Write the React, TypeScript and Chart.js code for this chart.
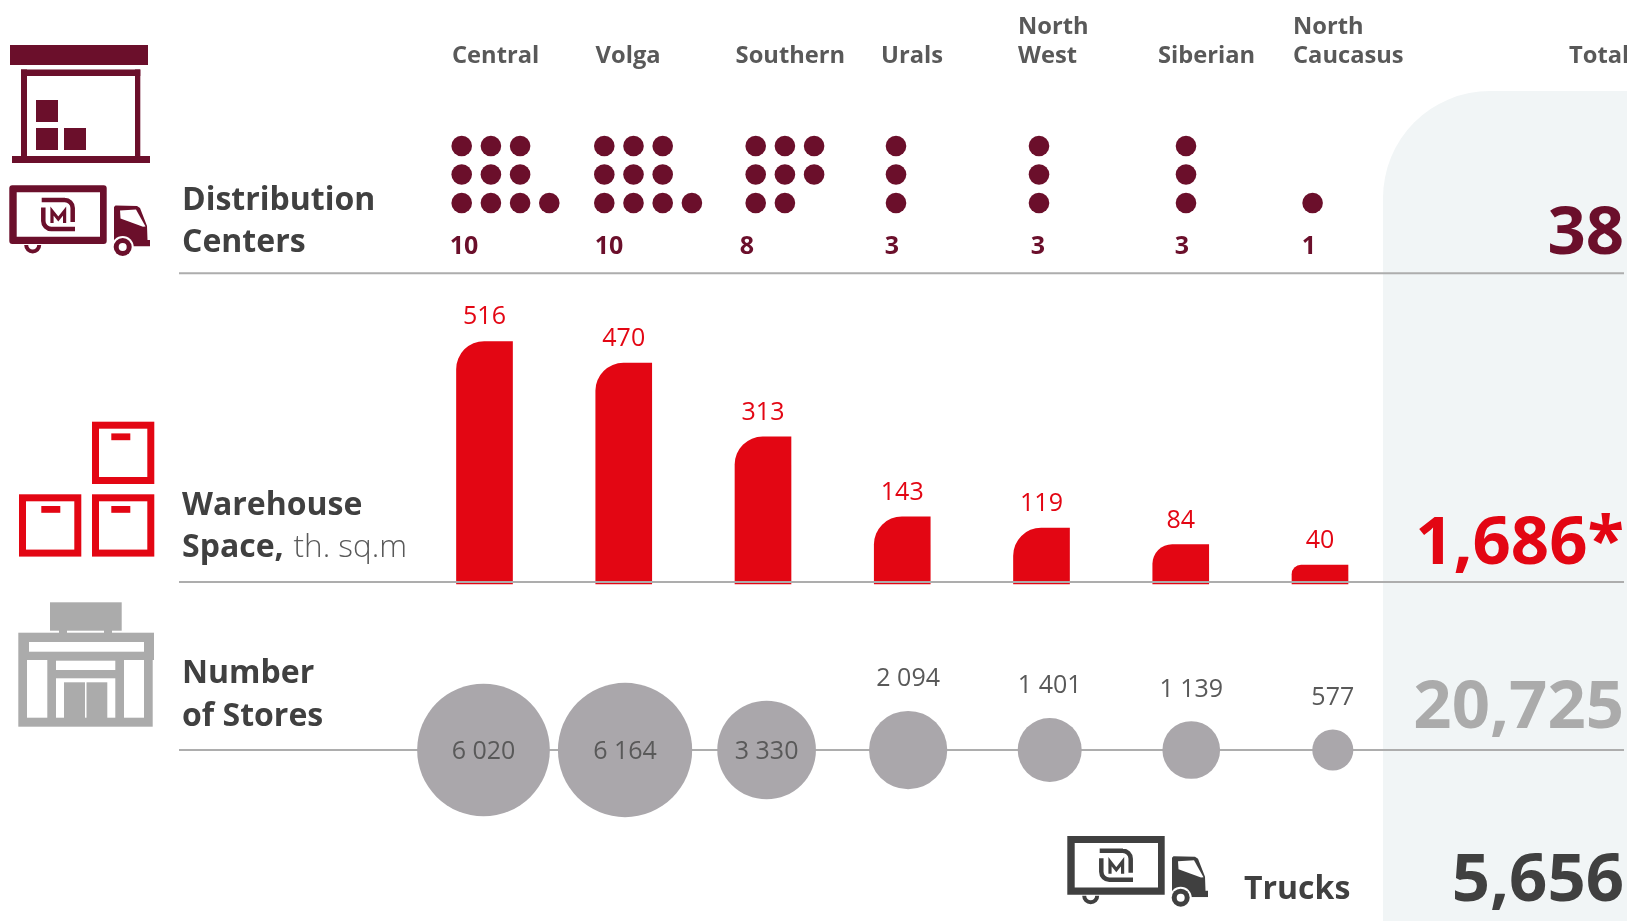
import React, { useEffect, useRef } from "react";
import { Chart, registerables } from "chart.js";

Chart.register(...registerables);

const regions = ["Central", "Volga", "Southern", "Urals", "North West", "Siberian", "North Caucasus"];
const distributionCenters = [10, 10, 8, 3, 3, 3, 1];
const warehouseSpace = [516, 470, 313, 143, 119, 84, 40];
const storeCounts = [6020, 6164, 3330, 2094, 1401, 1139, 577];
const totalCenters = "38";
const totalSpace = "1,686*";
const totalStores = "20,725";
const totalTrucks = "5,656";

const W = 1627;
const H = 921;
const MAROON = "#6b0f2b";
const RED = "#e30613";
const GREY = "#ababab";
const BUBBLE = "#aaa7ab";
const DARK = "#404040";
const MID = "#595959";
const RULE = "#adadad";
const PANEL = "#f1f5f6";
const FONT = '"Open Sans"';

// Hidden linear axes, each set by the pixel of its zero and its pixels per unit.
const hiddenX = (zeroPx: number, pxPerUnit: number) => ({
  type: "linear" as const,
  axis: "x",
  display: false,
  offset: false,
  bounds: "data",
  min: -zeroPx / pxPerUnit,
  max: (W - zeroPx) / pxPerUnit,
  grid: { display: false },
  ticks: { includeBounds: false, stepSize: 1 },
});
const hiddenY = (zeroPx: number, pxPerUnit: number) => ({
  type: "linear" as const,
  axis: "y",
  display: false,
  bounds: "data",
  min: (zeroPx - H) / pxPerUnit,
  max: zeroPx / pxPerUnit,
  grid: { display: false },
});

const BAR_PX = 139.25;
const BAR_UNIT = 0.47;
const BUBBLE_PX = 141.55;
const DOT_PX = 29.2;
const ROW_PX = 28.5;
const BUBBLE_K = 0.855;

const dotColumnStart = [461.7, 604.3, 755.7, 896, 1039, 1186, 1312.6];

// Two full rows of three on top and the remainder below; small counts
// stack in one column from the bottom row upwards.
function dotPoints(): { x: number; y: number }[] {
  const pts: { x: number; y: number }[] = [];
  distributionCenters.forEach((count, i) => {
    const x0 = dotColumnStart[i] / DOT_PX;
    if (count <= 3) {
      for (let k = 0; k < count; k++) pts.push({ x: x0, y: k });
    } else {
      for (let k = 0; k < count - 6; k++) pts.push({ x: x0 + k, y: 0 });
      for (let r = 1; r <= 2; r++) for (let k = 0; k < 3; k++) pts.push({ x: x0 + k, y: r });
    }
  });
  return pts;
}

function text(
  ctx: CanvasRenderingContext2D,
  s: string,
  x: number,
  y: number,
  font: string,
  color: string,
  align: CanvasTextAlign = "left",
) {
  ctx.font = font;
  ctx.fillStyle = color;
  ctx.textAlign = align;
  ctx.textBaseline = "alphabetic";
  ctx.fillText(s, x, y);
}

function rect(ctx: CanvasRenderingContext2D, x0: number, y0: number, x1: number, y1: number) {
  ctx.fillRect(x0, y0, x1 - x0, y1 - y0);
}

function drawWarehouse(ctx: CanvasRenderingContext2D) {
  ctx.fillStyle = MAROON;
  rect(ctx, 10, 45, 148, 65);
  rect(ctx, 21, 69.5, 140.3, 76);
  rect(ctx, 21, 69.5, 27, 158);
  rect(ctx, 135, 69.5, 140.3, 158);
  rect(ctx, 12, 156, 150, 163);
  rect(ctx, 36, 100, 58, 122);
  rect(ctx, 36, 128, 58, 150);
  rect(ctx, 64, 128, 86, 150);
}

function drawTruck(ctx: CanvasRenderingContext2D, dx: number, dy: number, color: string, corner: number) {
  ctx.save();
  ctx.translate(dx, dy);
  ctx.fillStyle = color;
  ctx.strokeStyle = color;
  // cargo box
  ctx.beginPath();
  ctx.roundRect(9.3, 185.3, 97.4, 58.7, corner);
  ctx.rect(16.7, 192.3, 83.3, 44.4);
  ctx.fill("evenodd");
  // brand mark
  ctx.lineWidth = 4.5;
  ctx.beginPath();
  ctx.moveTo(41.7, 200);
  ctx.lineTo(65, 200);
  ctx.arcTo(72.7, 200, 72.7, 208, 8);
  ctx.lineTo(72.7, 222);
  ctx.stroke();
  ctx.beginPath();
  ctx.moveTo(43.3, 207.5);
  ctx.lineTo(43.3, 221);
  ctx.arcTo(43.3, 229, 51, 229, 8);
  ctx.lineTo(75, 229);
  ctx.stroke();
  ctx.lineWidth = 3.2;
  ctx.beginPath();
  ctx.moveTo(52, 223);
  ctx.lineTo(52, 211);
  ctx.lineTo(58.3, 219);
  ctx.lineTo(64.6, 211);
  ctx.lineTo(64.6, 223);
  ctx.stroke();
  // cab
  ctx.beginPath();
  ctx.moveTo(114, 207);
  ctx.lineTo(115.5, 205.5);
  ctx.lineTo(137, 206);
  ctx.lineTo(140, 208);
  ctx.lineTo(147, 226);
  ctx.lineTo(147.5, 240);
  ctx.lineTo(150, 240);
  ctx.lineTo(150, 246.5);
  ctx.lineTo(114, 246.5);
  ctx.closePath();
  ctx.fill();
  ctx.fillStyle = "#ffffff";
  ctx.beginPath();
  ctx.moveTo(120, 210.5);
  ctx.lineTo(136, 209.5);
  ctx.lineTo(145.5, 226.5);
  ctx.lineTo(143, 226.8);
  ctx.lineTo(120.5, 218.5);
  ctx.closePath();
  ctx.fill();
  // front wheel with its arch
  ctx.beginPath();
  ctx.arc(122.7, 247, 11, 0, Math.PI * 2);
  ctx.fill();
  ctx.fillRect(108, 238, 6, 20);
  ctx.fillRect(108, 246.5, 42.5, 12);
  ctx.fillStyle = color;
  ctx.beginPath();
  ctx.arc(122.7, 247, 9, 0, Math.PI * 2);
  ctx.fill();
  ctx.fillStyle = "#ffffff";
  ctx.beginPath();
  ctx.arc(122.7, 247, 4, 0, Math.PI * 2);
  ctx.fill();
  // rear wheel peeking out below the box
  ctx.lineWidth = 4;
  ctx.beginPath();
  ctx.arc(32.7, 245, 6.5, 0, Math.PI);
  ctx.stroke();
  ctx.restore();
}

function drawBox(ctx: CanvasRenderingContext2D, x0: number, y0: number, tabX: number) {
  ctx.strokeStyle = RED;
  ctx.lineWidth = 7;
  ctx.strokeRect(x0 + 3.5, y0 + 3.5, 55.3, 55.3);
  ctx.fillStyle = RED;
  rect(ctx, tabX, y0 + 11.7, tabX + 19, y0 + 18.5);
}

function drawStore(ctx: CanvasRenderingContext2D) {
  ctx.fillStyle = GREY;
  rect(ctx, 50, 602.3, 121.7, 630.7);
  rect(ctx, 59, 630, 67, 634);
  rect(ctx, 104, 630, 112, 634);
  rect(ctx, 18.3, 632.7, 154, 660);
  rect(ctx, 18.3, 660, 152.7, 726.7);
  ctx.fillStyle = "#ffffff";
  rect(ctx, 29, 642, 144, 651.7);
  rect(ctx, 27, 660, 47.3, 717.7);
  rect(ctx, 124, 660, 144, 717.7);
  rect(ctx, 56, 660.7, 115.3, 670);
  rect(ctx, 56, 678.3, 115.3, 717.7);
  ctx.fillStyle = GREY;
  rect(ctx, 64, 682.3, 85, 718);
  rect(ctx, 86.5, 682.3, 107.3, 718);
}

// Page furniture drawn around the plot: the totals panel behind the marks,
// then icons, headings and value labels on top.
const furniture = {
  id: "furniture",
  beforeDatasetsDraw(chart: Chart) {
    const ctx = chart.ctx;
    ctx.save();
    ctx.fillStyle = PANEL;
    ctx.beginPath();
    ctx.roundRect(1383, 91, W - 1383 + 120, H - 91 + 120, 107);
    ctx.fill();
    ctx.restore();
  },
  afterDatasetsDraw(chart: Chart) {
    const ctx = chart.ctx;
    ctx.save();

    drawWarehouse(ctx);
    drawTruck(ctx, 0, 0, MAROON, 3);
    drawTruck(ctx, 1058, 650.7, DARK, 0);
    drawBox(ctx, 92, 421.7, 111.3);
    drawBox(ctx, 19, 494.3, 41.3);
    drawBox(ctx, 92, 494.3, 111.3);
    drawStore(ctx);

    const head = `700 23.7px ${FONT}`;
    const headX = [452, 595.6, 735.6, 881, 1018, 1158, 1293];
    regions.forEach((name, i) => {
      const parts = name.split(" ");
      if (parts.length === 2) {
        text(ctx, parts[0], headX[i], 34, head, MID);
        text(ctx, parts[1], headX[i], 63, head, MID);
      } else {
        text(ctx, name, headX[i], 63, head, MID);
      }
    });
    text(ctx, "Total", 1569, 63, head, MID);

    const title = `700 32px ${FONT}`;
    text(ctx, "Distribution", 182, 210, title, DARK);
    text(ctx, "Centers", 182, 252, title, DARK);
    text(ctx, "Warehouse", 182, 515, title, DARK);
    text(ctx, "Space,", 182, 557, title, DARK);
    text(ctx, "th. sq.m", 293.5, 557, `300 31.5px ${FONT}`, MID);
    text(ctx, "Number", 182, 683, title, DARK);
    text(ctx, "of Stores", 182, 726, title, DARK);
    text(ctx, "Trucks", 1244, 899, title, DARK);

    const countX = [464, 609, 747, 892, 1038, 1182, 1309];
    distributionCenters.forEach((v, i) => {
      text(ctx, String(v), countX[i], 254, `700 25px ${FONT}`, MAROON, "center");
    });

    const barMeta = chart.getDatasetMeta(0);
    warehouseSpace.forEach((v, i) => {
      const el = barMeta.data[i] as any;
      text(ctx, String(v), el.x, el.y - 17, `400 25px ${FONT}`, RED, "center");
    });

    const bubbleMeta = chart.getDatasetMeta(1);
    storeCounts.forEach((v, i) => {
      const el = bubbleMeta.data[i] as any;
      const label = String(v).replace(/(\d)(\d{3})$/, "$1 $2");
      const r = el.options.radius as number;
      const y = r > 45 ? el.y + 9 : el.y - r - 24.5;
      text(ctx, label, el.x, y, `400 25px ${FONT}`, MID, "center");
    });

    const big = `700 67px ${FONT}`;
    text(ctx, totalCenters, 1624, 254, big, MAROON, "right");
    text(ctx, totalSpace, 1624, 564, big, RED, "right");
    text(ctx, totalStores, 1624, 728, big, GREY, "right");
    text(ctx, totalTrucks, 1624, 901, big, DARK, "right");

    ctx.restore();
  },
};

const RULE_START = 179;
const RULE_END = 1624;
const ruleOn = (yAxisID: string, y: number, order: number) => ({
  type: "line" as const,
  data: [
    { x: RULE_START, y },
    { x: RULE_END, y },
  ],
  xAxisID: "xRules",
  yAxisID,
  borderColor: RULE,
  borderWidth: 2,
  pointRadius: 0,
  order,
});

export default function App() {
  const ref = useRef<HTMLCanvasElement>(null);

  useEffect(() => {
    document.body.style.margin = "0";
    const chart = new Chart(ref.current!, {
      type: "bar",
      data: {
        datasets: [
          {
            type: "bar",
            label: "Warehouse space",
            data: warehouseSpace.map((y, x) => ({ x, y })),
            xAxisID: "xBars",
            yAxisID: "yBars",
            backgroundColor: RED,
            grouped: false,
            barPercentage: 1,
            categoryPercentage: 1,
            maxBarThickness: 56,
            borderRadius: { topLeft: 28, topRight: 0, bottomLeft: 0, bottomRight: 0 },
            borderSkipped: false,
            order: 3,
          },
          {
            type: "bubble",
            label: "Stores",
            data: storeCounts.map((v, x) => ({ x, y: 0, r: BUBBLE_K * Math.sqrt(v) })),
            xAxisID: "xBubbles",
            yAxisID: "yBubbles",
            backgroundColor: BUBBLE,
            borderWidth: 0,
            hoverRadius: 0,
            order: 1,
          },
          {
            type: "scatter",
            label: "Distribution centers",
            data: dotPoints(),
            xAxisID: "xDots",
            yAxisID: "yDots",
            backgroundColor: MAROON,
            borderWidth: 0,
            pointRadius: 10.3,
            order: 1,
          },
          ruleOn("yDots", (203 - 273.3) / ROW_PX, 6),
          ruleOn("yBars", 2 / BAR_UNIT, 2),
          ruleOn("yBubbles", 0, 5),
        ] as any,
      },
      options: {
        responsive: false,
        animation: false,
        layout: { padding: 0, autoPadding: false },
        events: [],
        plugins: { legend: { display: false }, tooltip: { enabled: false } },
        scales: {
          xBars: hiddenX(484.5, BAR_PX),
          xBubbles: hiddenX(483.5, BUBBLE_PX),
          xDots: hiddenX(0, DOT_PX),
          xRules: { ...hiddenX(0, 1), ticks: { includeBounds: false, stepSize: 500 } },
          yBars: hiddenY(584, BAR_UNIT),
          yBubbles: hiddenY(750, 1),
          yDots: hiddenY(203, ROW_PX),
        } as any,
      },
      plugins: [furniture as any],
    });
    return () => chart.destroy();
  }, []);

  return <canvas ref={ref} width={W} height={H} style={{ display: "block" }} />;
}
